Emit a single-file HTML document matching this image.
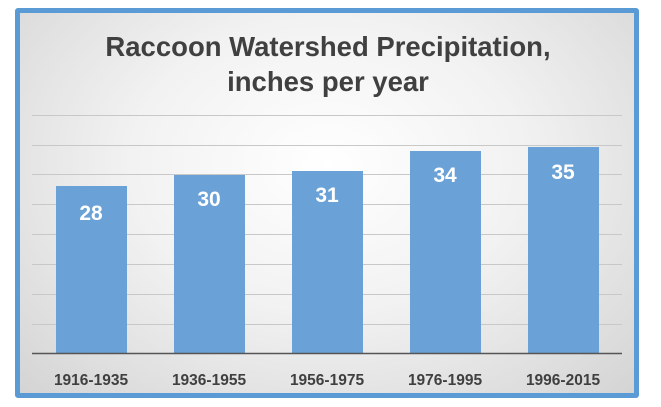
<!DOCTYPE html>
<html><head><style>
body{margin:0;width:661px;height:407px;background:#fff;overflow:hidden}
.frame{position:absolute;left:15px;top:8px;width:614px;height:380px;border:5px solid #5b9bd5;border-radius:3px;
background:radial-gradient(ellipse at 50% 40%,#ffffff 0%,#f2f2f2 45%,#d4d4d4 100%);}
svg{position:absolute;left:0;top:0}
</style></head><body>
<div class="frame"></div>
<svg width="661" height="407" font-family="'Liberation Sans',sans-serif" font-weight="bold">
<text x="328" y="56" text-anchor="middle" font-size="27.5" fill="#404040">Raccoon Watershed Precipitation,</text>
<text x="328" y="91" text-anchor="middle" font-size="27.5" fill="#404040">inches per year</text>
<g stroke="#c8c8c8" stroke-width="1">
<line x1="32" x2="622" y1="115.5" y2="115.5"/><line x1="32" x2="622" y1="145.5" y2="145.5"/>
<line x1="32" x2="622" y1="174.5" y2="174.5"/><line x1="32" x2="622" y1="204.5" y2="204.5"/>
<line x1="32" x2="622" y1="234.5" y2="234.5"/><line x1="32" x2="622" y1="264.5" y2="264.5"/>
<line x1="32" x2="622" y1="294.5" y2="294.5"/><line x1="32" x2="622" y1="324.5" y2="324.5"/>
</g>
<g fill="#6aa2d7">
<rect x="56" y="186" width="71" height="167"/>
<rect x="174" y="175" width="71" height="178"/>
<rect x="292" y="171" width="71" height="182"/>
<rect x="410" y="151" width="71" height="202"/>
<rect x="528" y="147" width="71" height="206"/>
</g>
<line x1="32" x2="622" y1="353.5" y2="353.5" stroke="#555" stroke-width="1.5"/>
<g fill="#fff" font-size="21" text-anchor="middle">
<text x="91" y="220">28</text><text x="209" y="206">30</text><text x="327" y="202">31</text>
<text x="445" y="182">34</text><text x="563" y="179">35</text>
</g>
<g fill="#404040" font-size="15.5" text-anchor="middle">
<text x="91" y="385">1916-1935</text><text x="209" y="385">1936-1955</text><text x="327" y="385">1956-1975</text>
<text x="445" y="385">1976-1995</text><text x="563" y="385">1996-2015</text>
</g>
</svg>
</body></html>
